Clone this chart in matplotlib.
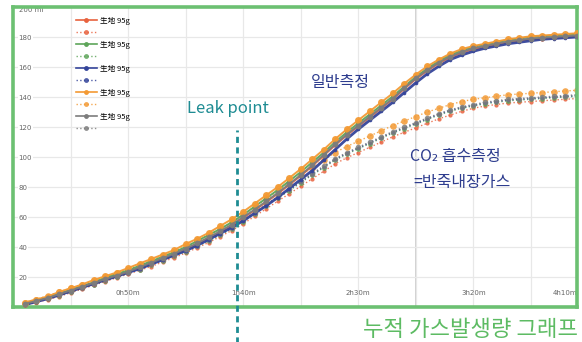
import matplotlib
matplotlib.use("Agg")
import matplotlib.pyplot as plt
from matplotlib.lines import Line2D

plt.rcParams["font.family"] = ["Noto Sans CJK KR", "DejaVu Sans"]

# elapsed time (min)
minutes = [5, 10, 15, 20, 25, 30, 35, 40, 45, 50, 55, 60, 65, 70, 75, 80, 85, 90, 95, 100,
           105, 110, 115, 120, 125, 130, 135, 140, 145, 150, 155, 160, 165, 170, 175, 180,
           185, 190, 195, 200, 205, 210, 215, 220, 225, 230, 235, 240, 245]

# cumulative gas (ml) - normal measurement (solid)
red_normal = [1.5, 3.5, 5.5, 8, 10.5, 13, 15.5, 18, 20.5, 23, 26, 29, 32, 35, 38.5, 42, 46, 50, 54.5, 59.5,
              64.5, 70, 75.5, 81.5, 87.5, 94, 101, 108, 114.5, 120.5, 126.5, 132.5, 138.5, 145.5, 152,
              157.5, 162.5, 166.5, 169.5, 172, 173.5, 175, 176.5, 177.5, 178.5, 179, 179.5, 180, 180.5]
green_normal = [2.5, 4.5, 6.5, 9, 11.5, 14, 16.5, 19.5, 22, 24.5, 27.5, 30.5, 33.5, 36.5, 40, 44, 48, 52, 56.5, 61.5,
                67, 72.5, 78, 84, 90, 96.5, 103, 110, 116.5, 122.5, 128.5, 134.5, 140.5, 147, 153.5,
                159, 164, 168, 171, 173.5, 175, 176.5, 178, 179, 180, 180.5, 181, 181.5, 182]
blue_normal = [1.5, 3.5, 5.5, 8, 10.5, 13, 15.5, 18, 20.5, 23, 25.5, 28.5, 31.5, 34.5, 37.5, 41, 45, 49, 53, 57.5,
               62.5, 67.5, 73, 79, 85, 91, 98, 105, 112, 118.5, 124.5, 130.5, 136.5, 143, 149.5,
               155.5, 160.5, 165, 168, 170.5, 172.5, 174, 175.5, 176.5, 177.5, 178.5, 179, 179.5, 180]
orange_normal = [3, 5, 7, 10, 12.5, 15, 18, 20.5, 23, 26, 29, 32, 35, 38, 42, 45.5, 49.5, 54, 58.5, 63.5,
                 69, 74.5, 80, 86, 92, 98.5, 105, 112, 118.5, 124.5, 130.5, 136.5, 142.5, 149, 155,
                 160.5, 165, 169, 172, 174, 175.5, 177, 178.5, 179.5, 180.5, 181, 181.5, 182, 182.5]
gray_normal = [2, 4, 6, 8.5, 11, 13.5, 16, 18.5, 21, 23.5, 26.5, 29.5, 32.5, 35.5, 39, 42.5, 46.5, 50.5, 55, 60,
               65, 70.5, 76, 82, 88, 94.5, 101.5, 108.5, 115, 121, 127, 133, 139, 146, 152.5,
               158, 163, 167, 170, 172.5, 174, 175.5, 177, 178, 179, 179.5, 180, 180.5, 181]

# cumulative gas (ml) - CO2 absorbed measurement (dotted)
red_co2 = [1, 3, 5, 7, 9.5, 12, 14.5, 17, 19.5, 22, 24.5, 27, 30, 33, 36, 39.5, 43, 47, 51, 55.5,
           60.5, 65.5, 70.5, 75.5, 80.5, 85.5, 90.5, 95.5, 99.5, 103, 106.5, 110, 113.5, 116.5, 119.5,
           122.5, 125.5, 128, 130.5, 132.5, 134, 135, 136, 136.5, 137, 137.5, 138, 138.5, 139]
green_co2 = [1.5, 3.5, 5.5, 7.5, 10, 12.5, 15, 17.5, 20, 22.5, 25, 28, 31, 34, 37, 40.5, 44, 48, 52, 57,
             62, 67.5, 72.5, 77.5, 83, 88, 93, 98, 102, 105.5, 109, 112.5, 116, 119, 122,
             125, 128, 130.5, 132.5, 134, 135.5, 136.5, 137.5, 138, 138.5, 139, 139.5, 140, 140.5]
blue_co2 = [2, 4, 6, 8, 10, 12.5, 15, 17.5, 20, 22.5, 25.5, 28.5, 31.5, 34.5, 37.5, 41, 44.5, 48.5, 52.5, 57.5,
            62.5, 68, 73, 78, 83.5, 88.5, 93.5, 98.5, 102.5, 106, 109.5, 113, 116.5, 119.5, 122.5,
            125.5, 128.5, 131, 133, 134.5, 136, 137, 138, 138.5, 139, 139.5, 140, 140.5, 141]
orange_co2 = [3, 5, 7.5, 10, 12.5, 15, 17.5, 20, 22.5, 25, 28, 31, 34, 37, 40.5, 44, 48, 52, 56.5, 61.5,
              66.5, 72, 77.5, 82.5, 88, 93, 98, 103, 107, 110.5, 114, 117.5, 121, 124, 127,
              130, 132.5, 135, 137, 138.5, 139.5, 140.5, 141.5, 142, 142.5, 143, 143.5, 144, 144.5]
gray_co2 = [2, 4, 6, 8, 10.5, 13, 15.5, 18, 20.5, 23, 25.5, 28.5, 31.5, 34.5, 37.5, 41, 45, 49, 53, 58,
            63, 68.5, 73.5, 78.5, 84, 89, 94, 99, 103, 106.5, 110, 113.5, 117, 120, 123,
            126, 129, 131.5, 133.5, 135, 136.5, 137.5, 138.5, 139, 139.5, 140, 140.5, 141, 141.5]

sample_label = "生地 95g"
y_ticks = [20, 40, 60, 80, 100, 120, 140, 160, 180, 200]
y_labels = ["20", "40", "60", "80", "100", "120", "140", "160", "180", "200 ml"]
x_ticks = [50, 100, 150, 200, 245]
x_labels = ["0h50m", "1h40m", "2h30m", "3h20m", "4h10m"]
leak_min = 97.5

colors = {"red": "#E8623E", "green": "#5EA55A", "blue": "#34449A",
          "orange": "#F39A34", "gray": "#7D7D7D"}
series = [
    ("red", red_normal, red_co2, 3.2),
    ("green", green_normal, green_co2, 3.6),
    ("blue", blue_normal, blue_co2, 2.6),
    ("orange", orange_normal, orange_co2, 5.0),
    ("gray", gray_normal, gray_co2, 4.2),
]

fig = plt.figure(figsize=(5.82, 3.42), dpi=100)
ax = fig.add_axes([13 / 582, 35 / 342, 564 / 582, 300 / 342])
ax.set_xlim(0, 245)
ax.set_ylim(0, 200)

# grid
ax.set_yticks(y_ticks)
ax.set_yticklabels(y_labels)
ax.set_xticks(x_ticks)
ax.set_xticklabels(x_labels)
ax.set_xticks([25, 75, 125, 175, 225], minor=True)
ax.grid(True, which="both", color="#e8e8e8", lw=0.9, zorder=0)
ax.axvline(175, color="#cfcfcf", lw=1.4, zorder=0.5)
ax.tick_params(which="both", length=0)
ax.tick_params(axis="y", pad=-4, labelsize=5, labelcolor="#666666")
ax.tick_params(axis="x", pad=-8, labelsize=5, labelcolor="#666666")
for lab in ax.get_yticklabels():
    lab.set_ha("left")
    lab.set_family("DejaVu Sans")
    lab.set_bbox(dict(facecolor="white", edgecolor="none", pad=0.6))
ax.get_yticklabels()[-1].set_va("top")
for lab in ax.get_xticklabels():
    lab.set_va("bottom")
    lab.set_family("DejaVu Sans")
ax.get_xticklabels()[-1].set_ha("right")

for sp in ax.spines.values():
    sp.set_color("#6CC072")
    sp.set_linewidth(2.6)

# curves
handles, labels = [], []
for name, normal, co2, ms in series:
    c = colors[name]
    ax.plot(minutes, co2, ls=":", lw=1.0, color=c, marker="o", ms=ms * 0.95,
            mew=0, alpha=0.85, zorder=2)
for name, normal, co2, ms in series:
    c = colors[name]
    lw = 2.0 if name == "blue" else 1.4
    ax.plot(minutes, normal, ls="-", lw=lw, color=c, marker="o", ms=ms,
            mew=0, alpha=0.95, zorder=3)
    handles.append(Line2D([], [], ls="-", lw=1.2, color=c, marker="o", ms=3.5, mew=0))
    labels.append(sample_label)
    handles.append(Line2D([], [], ls=":", lw=1.0, color=c, marker="o", ms=3.5, mew=0, alpha=0.85))
    labels.append("")

leg = ax.legend(handles, labels, loc="upper left", bbox_to_anchor=(0.105, 0.98),
                frameon=False, fontsize=5.5, labelspacing=0.52, handlelength=2.7,
                handletextpad=0.4, borderpad=0, prop={"family": ["Noto Sans CJK JP", "DejaVu Sans"], "size": 5.5})

# leak point marker
ax.plot([leak_min, leak_min], [-24, 118], ls=(0, (2.2, 1.6)), lw=2.0, color="#1E8C93",
        clip_on=False, zorder=4)

fig.text(228 / 582, 1 - 109 / 342, "Leak point", color="#1E8C93", fontsize=12,
         ha="center", va="center")
fig.text(340 / 582, 1 - 83 / 342, "일반측정", color="#2D3C8E", fontsize=11.5,
         ha="center", va="center")
fig.text(410 / 582, 1 - 157 / 342, "CO₂ 흡수측정", color="#2D3C8E", fontsize=11.5,
         ha="left", va="center")
fig.text(413 / 582, 1 - 183 / 342, "=반죽내장가스", color="#2D3C8E", fontsize=11.5,
         ha="left", va="center")
fig.text(578 / 582, 1 - 329 / 342, "누적 가스발생량 그래프", color="#5DBB63", fontsize=16,
         ha="right", va="center")

fig.savefig("out.png", dpi=100)
